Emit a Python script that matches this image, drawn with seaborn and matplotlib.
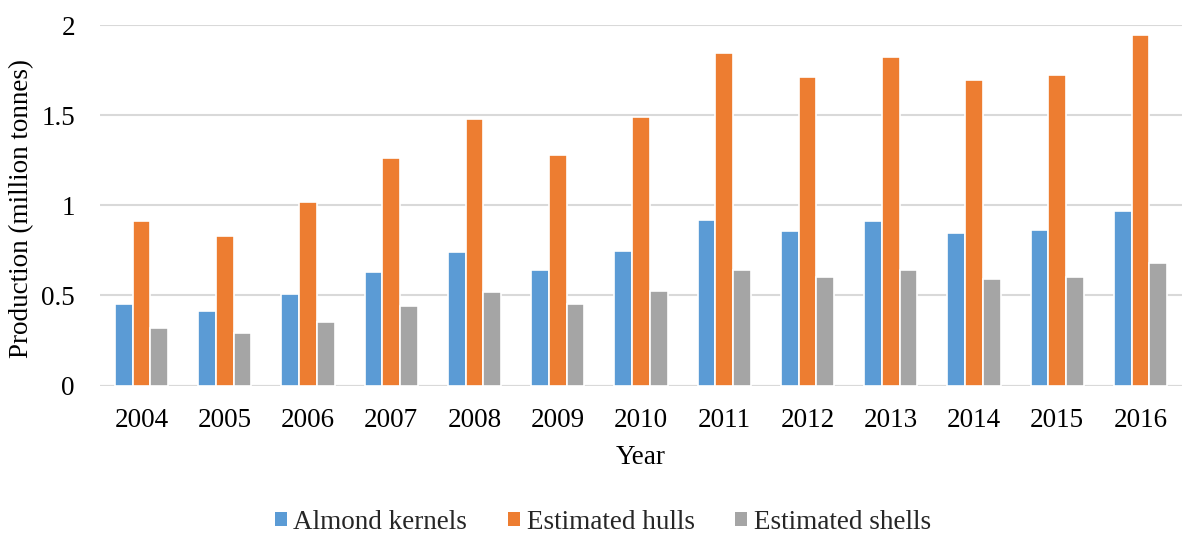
import matplotlib
matplotlib.use("Agg")
import matplotlib.pyplot as plt
from matplotlib.patches import Patch
import pandas as pd
import seaborn as sns

years = ["2004", "2005", "2006", "2007", "2008", "2009", "2010",
         "2011", "2012", "2013", "2014", "2015", "2016"]
almond_kernels = [0.454, 0.415, 0.508, 0.628, 0.740, 0.640, 0.745,
                  0.918, 0.855, 0.911, 0.848, 0.863, 0.968]
estimated_hulls = [0.913, 0.829, 1.016, 1.262, 1.478, 1.280, 1.489,
                   1.843, 1.713, 1.821, 1.697, 1.723, 1.943]
estimated_shells = [0.319, 0.291, 0.354, 0.441, 0.518, 0.452, 0.524,
                    0.641, 0.600, 0.639, 0.593, 0.602, 0.678]
series_names = ["Almond kernels", "Estimated hulls", "Estimated shells"]
palette = ["#5B9BD5", "#ED7D31", "#A5A5A5"]

df = pd.DataFrame({
    "Year": years * 3,
    "Series": [series_names[0]] * len(years) + [series_names[1]] * len(years)
              + [series_names[2]] * len(years),
    "Production": almond_kernels + estimated_hulls + estimated_shells,
})

sns.set_theme(style="white")
plt.rcParams["font.family"] = ["Liberation Serif", "DejaVu Serif"]

fig = plt.figure(figsize=(11.82, 5.35), dpi=100)
ax = fig.add_axes([0.0846, 0.2794, 0.9154, 0.6738])

sns.barplot(data=df, x="Year", y="Production", hue="Series",
            palette=palette, saturation=1, width=0.64, edgecolor="white",
            linewidth=1.2, errorbar=None, legend=False, ax=ax, zorder=3)

ax.set_ylim(0, 2)
ax.set_xlim(-0.5, len(years) - 0.5)
ax.set_yticks([0, 0.5, 1, 1.5, 2])
ax.set_yticklabels(["0", "0.5", "1", "1.5", "2"])
ax.yaxis.grid(True, color="#d9d9d9", linewidth=1.5, zorder=0)
ax.set_axisbelow(True)
for side in ["top", "right", "left", "bottom"]:
    ax.spines[side].set_visible(False)
ax.axhline(0, color="#d9d9d9", linewidth=1.5, zorder=2)

ax.tick_params(axis="both", length=0, labelsize=19.5, colors="black")
ax.tick_params(axis="x", pad=16)
ax.tick_params(axis="y", pad=18)
ax.set_xlabel("Year", fontsize=19.5, color="black", labelpad=9)
ax.set_ylabel("Production (million tonnes)", fontsize=19.5, color="black")
ax.yaxis.set_label_coords(-0.061, 0.49)

handles = [Patch(facecolor=c, edgecolor="none") for c in palette]
fig.legend(handles, series_names, loc="center", bbox_to_anchor=(0.51, 0.024),
           ncol=3, frameon=False, fontsize=19.5, handlelength=0.45,
           handleheight=0.45, handletextpad=0.24, columnspacing=1.5)

fig.savefig("out.png", dpi=100, facecolor="white")
